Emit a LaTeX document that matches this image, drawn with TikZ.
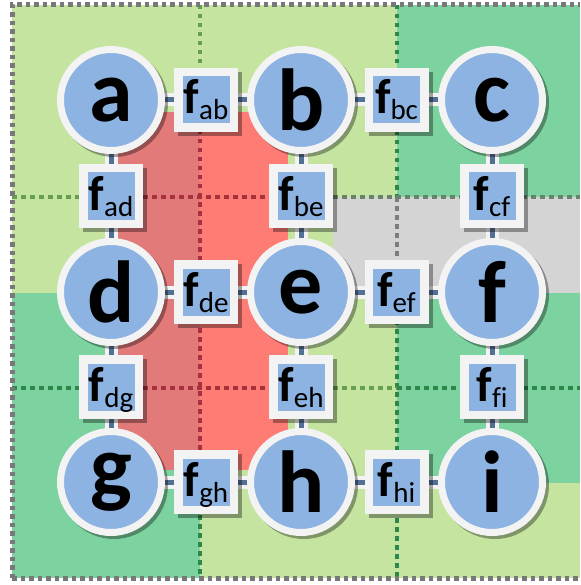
\documentclass[tikz,border=0pt]{standalone}
\usepackage{fontspec}
\setmainfont{Carlito}[Ligatures=NoCommon]
\usetikzlibrary{calc}
\pgfdeclarelayer{back}
\pgfdeclarelayer{conn}
\pgfsetlayers{back,conn,main}
\definecolor{lgreen}{RGB}{196,228,160}
\definecolor{mgreen}{RGB}{125,211,160}
\definecolor{greyreg}{RGB}{212,212,212}
\definecolor{dred}{RGB}{226,122,122}
\definecolor{lred}{RGB}{255,124,116}
\definecolor{nodeblue}{RGB}{141,179,226}
\definecolor{nodewhite}{RGB}{243,243,243}
\definecolor{dotgreen}{RGB}{100,160,80}
\definecolor{dotdgreen}{RGB}{45,135,75}
\definecolor{dotred}{RGB}{165,50,60}
\definecolor{dotgray}{RGB}{125,125,125}
\definecolor{dotmix}{RGB}{105,130,108}
\definecolor{bordergray}{RGB}{120,120,120}
\definecolor{coreblue}{RGB}{82,112,148}
\newcommand{\flab}[1]{{\fontsize{49}{49}\selectfont\bfseries f}{\fontsize{29}{29}\selectfont\raisebox{-6pt}{#1}}}
\tikzset{
  var/.style={circle, fill=nodeblue, draw=nodewhite, line width=7pt, minimum size=101pt, inner sep=0pt, font=\fontsize{88}{88}\selectfont\bfseries},
  fac/.style={rectangle, fill=nodeblue, draw=nodewhite, line width=8.5pt, minimum size=55.5pt, inner sep=0pt, text height=33pt, text depth=5pt},
  gridline/.style={line width=4.5pt, dash pattern=on 4.5pt off 4.5pt},
  borderline/.style={line width=5pt, dash pattern=on 4.5pt off 4pt, draw=bordergray},
  conwhite/.style={draw=nodewhite, line width=13pt},
  concore/.style={draw=coreblue, line width=5pt},
  shadowc/.style={fill=black, fill opacity=0.35}
}
\begin{document}
\begin{tikzpicture}[x=1pt,y=-1pt]
\useasboundingbox (0,0) rectangle (580,585);
% variable nodes
\node[var] (a) at (111,100) {a};
\node[var] (b) at (301,100) {b};
\node[var] (c) at (492,100) {c};
\node[var] (d) at (111,292) {d};
\node[var] (e) at (301,292) {e};
\node[var] (f) at (492,292) {f};
\node[var] (g) at (111,482) {g};
\node[var] (h) at (301,482) {h};
\node[var] (i) at (492,482) {i};
% factor nodes
\node[fac] (fab) at ($(a)!0.5!(b)$) {\flab{ab}};
\node[fac] (fbc) at ($(b)!0.5!(c)$) {\flab{bc}};
\node[fac] (fde) at ($(d)!0.5!(e)$) {\flab{de}};
\node[fac] (fef) at ($(e)!0.5!(f)$) {\flab{ef}};
\node[fac] (fgh) at ($(g)!0.5!(h)$) {\flab{gh}};
\node[fac] (fhi) at ($(h)!0.5!(i)$) {\flab{hi}};
\node[fac] (fad) at ($(a)!0.5!(d)$) {\flab{ad}};
\node[fac] (fbe) at ($(b)!0.5!(e)$) {\flab{be}};
\node[fac] (fcf) at ($(c)!0.5!(f)$) {\flab{cf}};
\node[fac] (fdg) at ($(d)!0.5!(g)$) {\flab{dg}};
\node[fac] (feh) at ($(e)!0.5!(h)$) {\flab{eh}};
\node[fac] (ffi) at ($(f)!0.5!(i)$) {\flab{fi}};
\begin{pgfonlayer}{back}
  % background regions
  \fill[lgreen] (12,5) rectangle (580,578);
  \fill[mgreen] (397,5) rectangle (580,197);
  \fill[mgreen] (12,293) rectangle (200,578);
  \fill[greyreg] (333,197) rectangle (580,293);
  \fill[mgreen] (397,293) rectangle (580,483);
  \fill[dred] (116,112) rectangle (200,470);
  \fill[lred] (200,112) rectangle (288,470);
  % dotted grid
  \draw[gridline, dotgreen] (200,5) -- (200,112);
  \draw[gridline, dotred] (200,112) -- (200,470);
  \draw[gridline, dotdgreen] (200,470) -- (200,578);
  \draw[gridline, dotdgreen] (397,5) -- (397,197);
  \draw[gridline, dotgray] (397,197) -- (397,293);
  \draw[gridline, dotdgreen] (397,293) -- (397,578);
  \draw[gridline, dotgreen] (12,197) -- (116,197);
  \draw[gridline, dotred] (116,197) -- (288,197);
  \draw[gridline, dotgreen] (288,197) -- (333,197);
  \draw[gridline, dotmix] (333,197) -- (580,197);
  \draw[gridline, dotdgreen] (12,388) -- (116,388);
  \draw[gridline, dotred] (116,388) -- (288,388);
  \draw[gridline, dotgreen] (288,388) -- (397,388);
  \draw[gridline, dotdgreen] (397,388) -- (580,388);
  % outer border
  \draw[borderline] (12,578) -- (12,5) -- (580,5);
  \draw[borderline] (12,578) -- (580,578);
\end{pgfonlayer}
\begin{pgfonlayer}{conn}
  \foreach \u/\v in {a/fab,fab/b,b/fbc,fbc/c,d/fde,fde/e,e/fef,fef/f,g/fgh,fgh/h,h/fhi,fhi/i,
                     a/fad,fad/d,b/fbe,fbe/e,c/fcf,fcf/f,d/fdg,fdg/g,e/feh,feh/h,f/ffi,ffi/i}{
    \draw[conwhite] (\u.center) -- (\v.center);
  }
  \foreach \u/\v in {a/fab,fab/b,b/fbc,fbc/c,d/fde,fde/e,e/fef,fef/f,g/fgh,fgh/h,h/fhi,fhi/i,
                     a/fad,fad/d,b/fbe,fbe/e,c/fcf,fcf/f,d/fdg,fdg/g,e/feh,feh/h,f/ffi,ffi/i}{
    \draw[concore] (\u.center) -- (\v.center);
  }
  \foreach \n in {a,b,c,d,e,f,g,h,i}{
    \fill[shadowc] ([shift={(3,3)}]\n.center) circle[radius=54pt];
  }
  \foreach \n in {fab,fbc,fde,fef,fgh,fhi,fad,fbe,fcf,fdg,feh,ffi}{
    \fill[shadowc] ([shift={(4,4)}]\n.north west) rectangle ([shift={(4,4)}]\n.south east);
  }
\end{pgfonlayer}
\end{tikzpicture}
\end{document}
